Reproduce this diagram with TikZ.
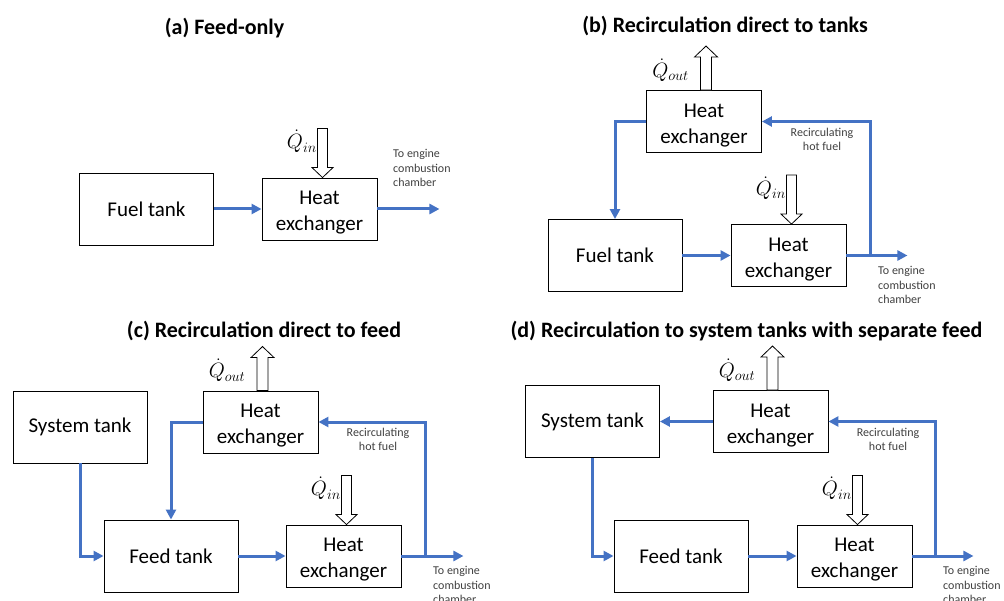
\documentclass[tikz,border=0pt]{standalone}
\usepackage{fontspec}
\setmainfont{Carlito}
\usepackage{amsmath}
\usepackage{xcolor}
\definecolor{flowblue}{RGB}{68,114,196}
\definecolor{notegray}{RGB}{64,64,64}
\usepackage{tikz}
\usetikzlibrary{arrows.meta}
\newcommand{\boxfont}{\fontsize{21}{26}\selectfont}
\newcommand{\notefont}{\fontsize{12}{14.5}\selectfont}
\newcommand{\titlefont}{\fontsize{22}{26}\selectfont\bfseries}
\newcommand{\qfont}{\fontsize{20}{24}\selectfont}
\newcommand{\widthtank}{134pt}
\newcommand{\widthhx}{115pt}
\newcommand{\hxtext}{\rule{0pt}{21pt}Heat\\exchanger}
\tikzset{
    common/.style={draw, rectangle, line width=0.9pt, align=center, font=\boxfont},
    tank/.style={common, minimum width=\widthtank, minimum height=72pt},
    hx/.style={common, minimum width=\widthhx, minimum height=62pt},
    flow/.style={draw=flowblue, line width=3pt, -{Triangle[length=10pt, width=10pt]}},
    heat/.style={draw, fill=white, line width=0.8pt, line join=miter},
    qlabel/.style={anchor=east, inner sep=0pt, font=\qfont},
    note/.style={font=\notefont, text=notegray, inner sep=0pt},
    caption/.style={font=\titlefont}
}

\begin{document}
\begin{tikzpicture}[x=1pt, y=-1pt]
      \newcommand\heatin[1]{
        \draw[heat] ([xshift=3pt]#1.north) -- ++(-10.5,-10) -- ++(5.5,0) -- ++(0,-39)
          -- ++(10,0) -- ++(0,39) -- ++(5.5,0) -- cycle;
        \node[qlabel] (#1-qin) at ([xshift=-2.5pt, yshift=36pt]#1.north) {$\dot{Q}_{in}$};
      }
      \newcommand\heatout[1]{
        \draw[heat] ([xshift=2pt]#1.north) ++(-5.5,0) -- ++(0,-33) -- ++(-6,0) -- ++(11.5,-11)
          -- ++(11.5,11) -- ++(-6,0) -- ++(0,33) -- cycle;
        \node[qlabel] (#1-qout) at ([xshift=-15pt, yshift=20pt]#1.north) {$\dot{Q}_{out}$};
      }

      \useasboundingbox (0,0) rectangle (1004,601);

      % (a)
      \node[caption] (a-title) at (224.5,28) {(a) Feed-only};
      \node[tank] (a-tank) at (146.5,209) {Fuel tank};
      \node[hx] (a-hx) at (319.5,209) {\hxtext};
      \coordinate (a-out) at ([xshift=62pt]a-hx.east);
      \node[note, anchor=west, align=left] (a-note) at (393,168) {To engine\\combustion\\chamber};
      \heatin{a-hx}
      \draw[flow] (a-tank) -- (a-hx);
      \draw[flow] (a-hx) -- (a-out);

      % (b)
      \node[caption] (b-title) at (725,26) {(b) Recirculation direct to tanks};
      \node[hx] (b-cool) at (704,121.5) {\hxtext};
      \node[tank] (b-tank) at (615,255.5) {Fuel tank};
      \node[hx] (b-hx) at (788.5,255.5) {\hxtext};
      \coordinate (b-split) at ([xshift=24pt]b-hx.east);
      \coordinate (b-out) at ([xshift=61pt]b-hx.east);
      \node[note, align=center] (b-recirc) at (822,139.5) {Recirculating\\hot fuel};
      \node[note, anchor=west, align=left] (b-note) at (878,285) {To engine\\combustion\\chamber};
      \heatout{b-cool}
      \heatin{b-hx}
      \draw[flow] (b-tank) -- (b-hx);
      \draw[flow] (b-hx) -- (b-out);
      \draw[flow] (b-split) |- (b-cool.east);
      \draw[flow] (b-cool.west) -| (b-tank.north);

      % (c)
      \node[caption] (c-title) at (264,331) {(c) Recirculation direct to feed};
      \node[tank] (c-sys) at (80,427) {System tank};
      \node[hx] (c-cool) at (260.5,422) {\hxtext};
      \node[tank] (c-feed) at (171,556) {Feed tank};
      \node[hx] (c-hx) at (343.5,556) {\hxtext};
      \coordinate (c-split) at ([xshift=24pt]c-hx.east);
      \coordinate (c-out) at ([xshift=62pt]c-hx.east);
      \node[note, align=center] (c-recirc) at (378,439.5) {Recirculating\\hot fuel};
      \node[note, anchor=west, align=left] (c-note) at (433,585) {To engine\\combustion\\chamber};
      \heatout{c-cool}
      \heatin{c-hx}
      \draw[flow] (c-sys.south) |- (c-feed.west);
      \draw[flow] (c-feed) -- (c-hx);
      \draw[flow] (c-hx) -- (c-out);
      \draw[flow] (c-split) |- (c-cool.east);
      \draw[flow] (c-cool.west) -| (c-feed.north);

      % (d)
      \node[caption] (d-title) at (746.5,331) {(d) Recirculation to system tanks with separate feed};
      \node[tank] (d-sys) at (592.5,421.5) {System tank};
      \node[hx] (d-cool) at (770.5,421.5) {\hxtext};
      \node[tank] (d-feed) at (681,556) {Feed tank};
      \node[hx] (d-hx) at (854.5,556) {\hxtext};
      \coordinate (d-split) at ([xshift=23pt]d-hx.east);
      \coordinate (d-out) at ([xshift=61pt]d-hx.east);
      \node[note, align=center] (d-recirc) at (888,439.5) {Recirculating\\hot fuel};
      \node[note, anchor=west, align=left] (d-note) at (943,585) {To engine\\combustion\\chamber};
      \heatout{d-cool}
      \heatin{d-hx}
      \draw[flow] (d-cool) -- (d-sys);
      \draw[flow] (d-sys.south) |- (d-feed.west);
      \draw[flow] (d-feed) -- (d-hx);
      \draw[flow] (d-hx) -- (d-out);
      \draw[flow] (d-split) |- (d-cool.east);
    \end{tikzpicture}
\end{document}
